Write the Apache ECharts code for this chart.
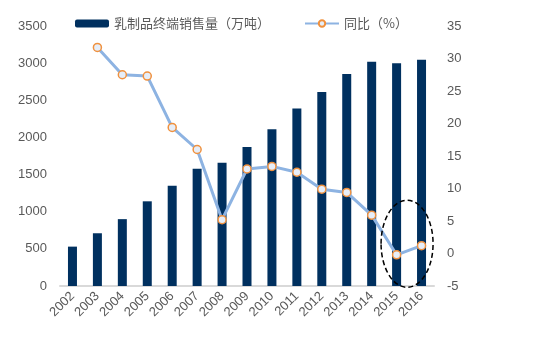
<!DOCTYPE html>
<html>
<head>
<meta charset="utf-8">
<script src="https://cdn.jsdelivr.net/npm/echarts@6/dist/echarts.min.js"></script>
<style>
  html, body { margin: 0; padding: 0; background: #fff; }
  #main { width: 548px; height: 351px; }
</style>
</head>
<body>
<div id="main"></div>
<script>
// 数据
var years = ["2002", "2003", "2004", "2005", "2006", "2007", "2008", "2009",
  "2010", "2011", "2012", "2013", "2014", "2015", "2016"];
var sales = [530, 710, 900, 1140, 1350, 1580, 1660, 1870, 2110, 2390, 2610, 2855, 3020, 3000, 3045];
var yoy = [null, 31.7, 27.5, 27.3, 19.4, 16.0, 5.2, 13.0, 13.4, 12.5, 9.9, 9.4, 5.9, -0.2, 1.2];
var leftTicks = [0, 3500, 500];
var rightTicks = [-5, 35, 5];

var textColor = "#595959";
var chart = echarts.init(document.getElementById("main"));

chart.setOption({
  animation: false,
  textStyle: { fontFamily: "Liberation Sans, Noto Sans CJK SC" },
  legend: {
    top: 12,
    left: 70,
    itemGap: 34,
    itemWidth: 34,
    itemHeight: 8,
    textStyle: { color: textColor, fontSize: 13, fontFamily: "Noto Sans CJK SC" },
    data: ["乳制品终端销售量（万吨）", "同比（%）"]
  },
  grid: { left: 60, right: 114, top: 26, bottom: 65 },
  xAxis: {
    type: "category",
    data: years,
    axisLine: { lineStyle: { color: "#d9d9d9", width: 2 } },
    axisTick: { show: false },
    axisLabel: { rotate: 45, color: textColor, fontSize: 13, margin: 8, interval: 0 }
  },
  yAxis: [
    {
      type: "value",
      min: leftTicks[0], max: leftTicks[1], interval: leftTicks[2],
      splitLine: { show: false },
      axisLine: { show: false },
      axisTick: { show: false },
      axisLabel: { color: textColor, fontSize: 13, margin: 13, formatter: function (v) { return String(v); } }
    },
    {
      type: "value",
      min: rightTicks[0], max: rightTicks[1], interval: rightTicks[2],
      splitLine: { show: false },
      axisLine: { show: false },
      axisTick: { show: false },
      axisLabel: { color: textColor, fontSize: 13, margin: 13 }
    }
  ],
  series: [
    {
      name: "乳制品终端销售量（万吨）",
      type: "bar",
      data: sales,
      barWidth: 9,
      itemStyle: { color: "#00305f" }
    },
    {
      name: "同比（%）",
      type: "line",
      yAxisIndex: 1,
      data: yoy,
      symbol: "circle",
      symbolSize: 8,
      lineStyle: { color: "#8db3e2", width: 3 },
      itemStyle: { color: "#e6eef9", borderColor: "#f0913e", borderWidth: 1.5 }
    }
  ]
});

// 虚线椭圆标注 2015-2016
var p1 = chart.convertToPixel({ seriesIndex: 0 }, [13, 0]);
var p2 = chart.convertToPixel({ seriesIndex: 0 }, [14, 0]);
var cx = (p1[0] + p2[0]) / 2 - 2;
var topY = chart.convertToPixel({ yAxisIndex: 1 }, 8.2);
var botY = chart.convertToPixel({ yAxisIndex: 1 }, -5.2);
chart.setOption({
  graphic: [{
    type: "ellipse",
    shape: { cx: cx, cy: (topY + botY) / 2, rx: 26, ry: (botY - topY) / 2 },
    style: { fill: null, stroke: "#000", lineWidth: 1.5, lineDash: [5, 3] },
    z: 100
  }]
});
</script>
</body>
</html>
